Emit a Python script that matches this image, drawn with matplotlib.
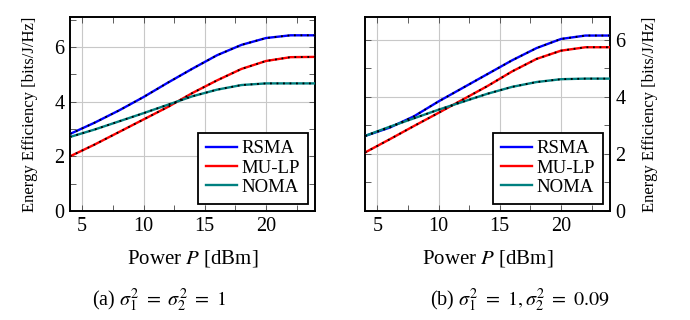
import numpy as np
import matplotlib
matplotlib.use("Agg")
import matplotlib.pyplot as plt
from matplotlib.ticker import MultipleLocator

plt.rcParams['font.family'] = ['Liberation Serif', 'DejaVu Serif']
plt.rcParams['mathtext.fontset'] = 'stix'

# transmit power [dBm]
power = [4, 6, 8, 10, 12, 14, 16, 18, 20, 22, 24]

# (a) sigma1^2 = sigma2^2 = 1
rsma_a = [2.82, 3.23, 3.68, 4.17, 4.70, 5.21, 5.70, 6.08, 6.33, 6.43, 6.43]
mulp_a = [2.00, 2.43, 2.89, 3.35, 3.81, 4.32, 4.78, 5.20, 5.49, 5.63, 5.64]
noma_a = [2.71, 2.98, 3.28, 3.58, 3.89, 4.20, 4.44, 4.61, 4.67, 4.67, 4.67]

# (b) sigma1^2 = 1, sigma2^2 = 0.09
rsma_b = [2.63, 2.92, 3.32, 3.84, 4.32, 4.80, 5.28, 5.71, 6.03, 6.15, 6.15]
mulp_b = [2.05, 2.51, 2.98, 3.44, 3.91, 4.38, 4.89, 5.33, 5.62, 5.74, 5.74]
noma_b = [2.63, 2.95, 3.25, 3.55, 3.83, 4.11, 4.35, 4.52, 4.62, 4.64, 4.64]

schemes = ['RSMA', 'MU-LP', 'NOMA']
colors = ['#0000ff', '#ff0000', '#008080']

fig = plt.figure(figsize=(6.9, 3.2), dpi=100)
ax_a = fig.add_axes([70 / 690, 109 / 320, 245 / 690, 194 / 320])
ax_b = fig.add_axes([365 / 690, 109 / 320, 245 / 690, 194 / 320])


def draw(ax, series, ymax, caption, cap_x, right=False):
    for vals, name, c in zip(series, schemes, colors):
        ax.plot(power, vals, color=c, lw=1.7, label=name, zorder=3)
        # black dotted overlay on every curve
        ax.plot(power, vals, color='black', lw=1.3, dashes=(1.0, 2.6), zorder=4)
    ax.set_xlim(4, 24)
    ax.set_ylim(0, ymax)
    ax.xaxis.set_major_locator(MultipleLocator(5))
    ax.xaxis.set_minor_locator(MultipleLocator(2.5))
    ax.yaxis.set_major_locator(MultipleLocator(2))
    ax.yaxis.set_minor_locator(MultipleLocator(1))
    ax.grid(True, which='major', color='#c8c8c8', lw=0.8, zorder=0)
    ax.tick_params(which='both', direction='in', top=True, right=True,
                   length=4, width=0.6, labelsize=14.5, color='#444444',
                   pad=4)
    for s in ax.spines.values():
        s.set_linewidth(1.4)
    if right:
        ax.yaxis.tick_right()
        ax.tick_params(which='both', left=True, right=True)
        ax.yaxis.set_label_position('right')
    ax.set_ylabel('Energy Efficiency [bits/J/Hz]', fontsize=12,
                  rotation=90, labelpad=12)
    ax.set_xlabel('Power $P$ [dBm]', fontsize=15, labelpad=9)
    leg = ax.legend(loc='lower right', fontsize=13.5, frameon=True,
                    fancybox=False, framealpha=1, edgecolor='black',
                    handlelength=1.65, borderpad=0.4, labelspacing=0.12,
                    handletextpad=0.25, borderaxespad=0.4)
    leg.get_frame().set_linewidth(1.3)
    fig.text(cap_x / 690, 1 - 300 / 320, caption, ha='center',
             va='center', fontsize=14.5)


draw(ax_a, [rsma_a, mulp_a, noma_a], 7.1,
     r'(a) $\sigma_1^2\ =\ \sigma_2^2\ =\ 1$', 159)
draw(ax_b, [rsma_b, mulp_b, noma_b], 6.8,
     r'(b) $\sigma_1^2\ =\ 1,\sigma_2^2\ =\ 0.09$', 520, right=True)

fig.savefig('out.png', dpi=100)
